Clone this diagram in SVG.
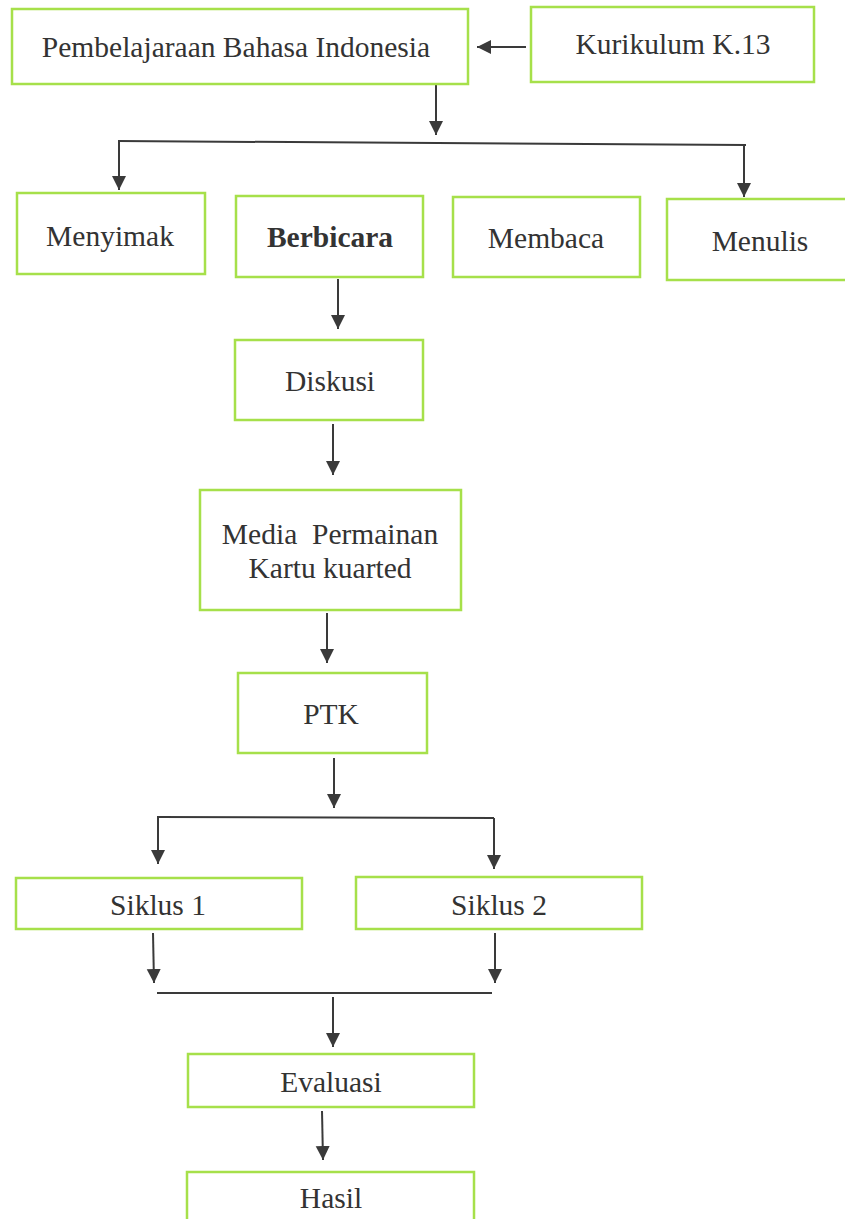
<svg xmlns="http://www.w3.org/2000/svg" width="845" height="1219" viewBox="0 0 845 1219">
<style>
.box{fill:#fff;stroke:#a6e04a;stroke-width:2.5}
.t{font-family:'Liberation Serif','Tinos','DejaVu Serif',serif;font-size:29.5px;fill:#333;text-anchor:middle}
.b{font-weight:bold}
.c{stroke:#3a3a3a;stroke-width:2;fill:none}
.a{stroke:#3a3a3a;stroke-width:2;fill:none;marker-end:url(#ah)}
</style>
<defs>
<marker id="ah" markerUnits="userSpaceOnUse" markerWidth="14" markerHeight="16" refX="14" refY="7" orient="auto">
<path d="M0,0 L14,7 L0,14 Z" fill="#3a3a3a"/>
</marker>
</defs>
<rect width="845" height="1219" fill="#fff"/>
<g id="connectors">
<line class="a" x1="526" y1="47" x2="477" y2="47"/>
<line class="a" x1="436" y1="85" x2="436" y2="135"/>
<line class="c" x1="118" y1="141" x2="746" y2="145"/>
<line class="a" x1="119" y1="141" x2="119" y2="190"/>
<line class="a" x1="744" y1="145" x2="744" y2="197"/>
<line class="a" x1="338" y1="279" x2="338" y2="329"/>
<line class="a" x1="333" y1="424" x2="333" y2="475"/>
<line class="a" x1="327" y1="613" x2="327" y2="663"/>
<line class="a" x1="334" y1="758" x2="334" y2="808"/>
<line class="c" x1="159" y1="817" x2="494" y2="818"/>
<line class="a" x1="158" y1="816" x2="158" y2="864"/>
<line class="a" x1="494" y1="818" x2="494" y2="869"/>
<line class="a" x1="153" y1="933" x2="154" y2="983"/>
<line class="a" x1="495" y1="933" x2="495" y2="983"/>
<line class="c" x1="157" y1="993" x2="492" y2="993"/>
<line class="a" x1="333" y1="997" x2="333" y2="1047"/>
<line class="a" x1="322" y1="1111" x2="323" y2="1160"/>
</g>
<g id="n-pembelajaraan"><rect class="box" x="12" y="9" width="456" height="75"/><text class="t" x="236" y="57">Pembelajaraan Bahasa Indonesia</text></g>
<g id="n-kurikulum"><rect class="box" x="531" y="7" width="283" height="75"/><text class="t" x="673" y="54">Kurikulum K.13</text></g>
<g id="n-menyimak"><rect class="box" x="17" y="193" width="188" height="81"/><text class="t" x="110" y="246">Menyimak</text></g>
<g id="n-berbicara"><rect class="box" x="236" y="196" width="187" height="81"/><text class="t b" x="330" y="247">Berbicara</text></g>
<g id="n-membaca"><rect class="box" x="453" y="197" width="187" height="80"/><text class="t" x="546" y="248">Membaca</text></g>
<g id="n-menulis"><rect class="box" x="667" y="199" width="185" height="81"/><text class="t" x="760" y="251">Menulis</text></g>
<g id="n-diskusi"><rect class="box" x="235" y="340" width="188" height="80"/><text class="t" x="330" y="391">Diskusi</text></g>
<g id="n-media"><rect class="box" x="200" y="490" width="261" height="120"/><text class="t" x="330" y="544" xml:space="preserve">Media  Permainan</text><text class="t" x="330" y="578">Kartu kuarted</text></g>
<g id="n-ptk"><rect class="box" x="238" y="673" width="189" height="80"/><text class="t" x="331" y="724">PTK</text></g>
<g id="n-siklus1"><rect class="box" x="16" y="878" width="286" height="51"/><text class="t" x="158" y="915">Siklus 1</text></g>
<g id="n-siklus2"><rect class="box" x="356" y="877" width="286" height="52"/><text class="t" x="499" y="915">Siklus 2</text></g>
<g id="n-evaluasi"><rect class="box" x="188" y="1054" width="286" height="53"/><text class="t" x="331" y="1092">Evaluasi</text></g>
<g id="n-hasil"><rect class="box" x="187" y="1172" width="287" height="60"/><text class="t" x="331" y="1208">Hasil</text></g>
</svg>
